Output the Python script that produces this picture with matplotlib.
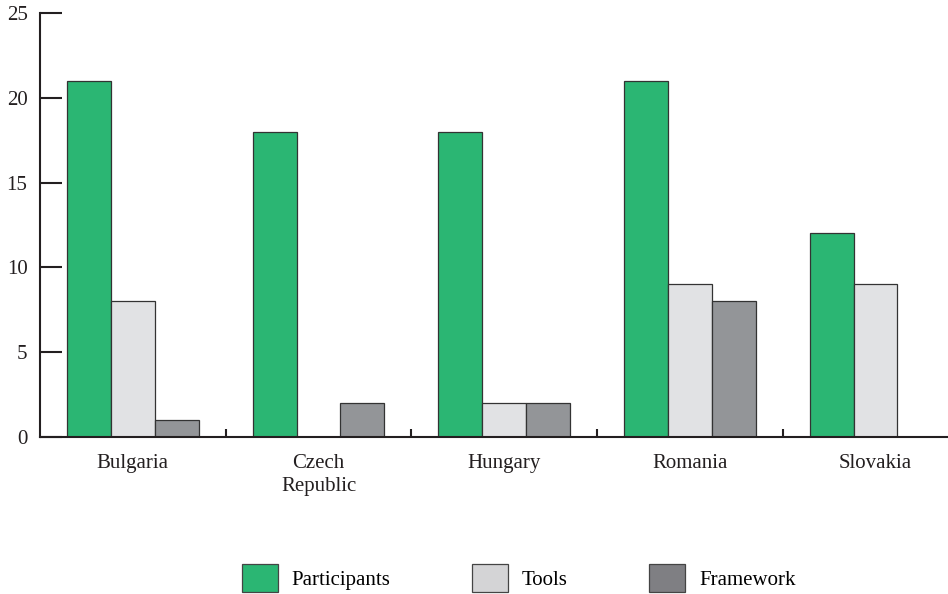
import numpy as np
import matplotlib.pyplot as plt
from matplotlib.patches import Patch

plt.rcParams['font.family'] = ['Liberation Serif', 'DejaVu Serif']

countries = ["Bulgaria", "Czech\nRepublic", "Hungary", "Romania", "Slovakia"]
participants = [21, 18, 18, 21, 12]
tools = [8, 0, 2, 9, 9]
framework = [1, 2, 2, 8, 0]

series_names = ["Participants", "Tools", "Framework"]
bar_colors = ["#2bb673", "#e1e2e4", "#939598"]
legend_colors = ["#2bb673", "#d4d4d6", "#7f7f83"]

fig = plt.figure(figsize=(9.48, 5.94), dpi=100)
ax = fig.add_axes([40 / 948, 157 / 594, 908 / 948, 424 / 594])

x = np.arange(len(countries))
w = 0.236
for k, vals in enumerate([participants, tools, framework]):
    ax.bar(x + (k - 1) * w, vals, width=w, color=bar_colors[k],
           edgecolor="#333333", linewidth=0.9)

ax.set_xlim(-0.5, 4.39)
ax.set_ylim(0, 25)
ax.set_yticks(range(0, 26, 5))

ax.set_xticks(x)
ax.set_xticklabels(countries, fontsize=15, color="#231f20", linespacing=1.3)
ax.tick_params(axis="x", which="major", length=0, pad=12)
ax.set_xticks([0.5, 1.5, 2.5, 3.5], minor=True)
ax.tick_params(axis="x", which="minor", direction="in", length=6, width=1.5, color="#231f20")
ax.tick_params(axis="y", direction="in", length=16, width=1.5, color="#231f20",
               labelsize=15, labelcolor="#231f20", pad=9)

for side in ["top", "right"]:
    ax.spines[side].set_visible(False)
for side in ["left", "bottom"]:
    ax.spines[side].set_linewidth(1.5)
    ax.spines[side].set_color("#231f20")

handles = [Patch(facecolor=c, edgecolor="#444444", linewidth=0.9) for c in legend_colors]
fig.legend(handles, series_names, loc="lower center", bbox_to_anchor=(0.547, -0.022),
           ncol=3, frameon=False, fontsize=15, handlelength=1.73, handleheight=1.75,
           handletextpad=0.67, columnspacing=3.9, borderpad=0.2)

fig.savefig("out.png", dpi=100)
